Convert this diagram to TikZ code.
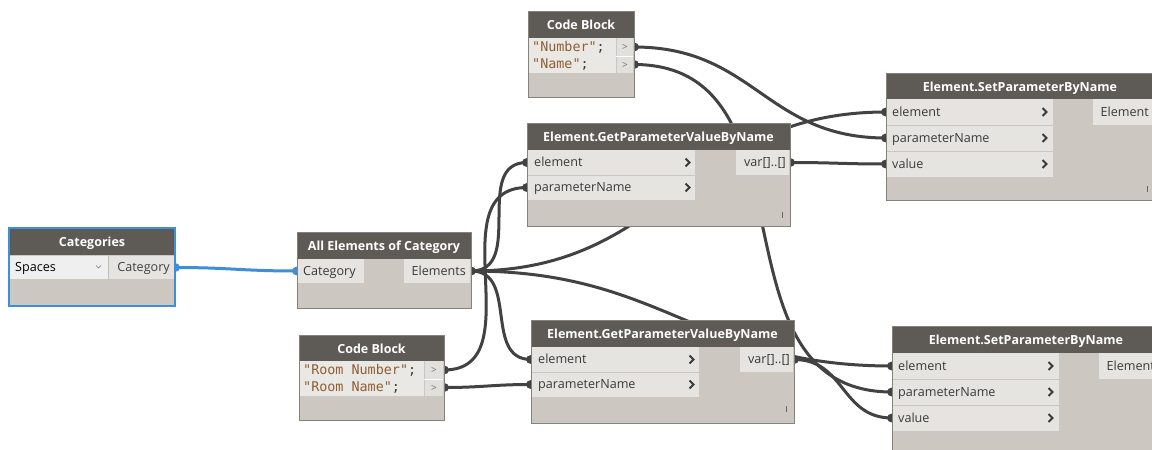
\documentclass[tikz,border=0pt]{standalone}
\usepackage{fontspec}
\setmainfont{Open Sans}
\setmonofont{DejaVu Sans Mono}
\usetikzlibrary{calc}
\definecolor{hdr}{HTML}{5E5A56}
\definecolor{bodyc}{HTML}{CCC8C1}
\definecolor{rowc}{HTML}{E6E4E0}
\definecolor{edge}{HTML}{85817B}
\definecolor{wire}{HTML}{424242}
\definecolor{sel}{HTML}{3D8FD9}
\definecolor{txt}{HTML}{3A3A3A}
\definecolor{strc}{HTML}{8E5E35}
\definecolor{codec}{HTML}{EAE8E5}
\definecolor{colc}{HTML}{E2E0DC}
\definecolor{dropc}{HTML}{EFEFEF}

% Bezier connector whose handle length grows with the distance between ports
\newcommand\dwire[3][wire]{%
  \draw[wireline,draw=#1] let \p1=(#2), \p2=(#3),
    \n1={0.45*veclen(\x2-\x1,\y2-\y1)} in
    (#2) .. controls +(\n1,0) and +(-\n1,0) .. (#3);}
% input chevron of a port row
\newcommand\chevron[2]{\draw[chev] (#1-2.5,#2-4) -- (#1+1.5,#2) -- (#1-2.5,#2+4);}

\begin{document}
\begin{tikzpicture}[x=1pt,y=-1pt,
  nbox/.style={fill=bodyc, inner sep=0pt, anchor=north west, outer sep=0pt},
  hdrtxt/.style={text=white, font=\fontsize{12.5}{14}\selectfont\bfseries, inner sep=0pt, text height=12pt, text depth=2pt},
  lbl/.style={text=txt, font=\fontsize{12.6}{14}\selectfont, inner sep=0pt, text height=11pt, text depth=2.5pt},
  code/.style={font=\ttfamily\fontsize{13.4}{16}\selectfont, inner sep=0pt, anchor=west, text height=10.5pt, text depth=2.5pt},
  chev/.style={draw=txt, line width=2pt},
  wireline/.style={line width=3pt},
  pmark/.style={fill=wire},
  outline/.style={draw=edge, line width=1pt},
  lace/.style={draw=black!60, line width=1pt},
]
\useasboundingbox (0,0) rectangle (1152,450);
\clip (0,0) rectangle (1152,450);
\fill[white] (0,0) rectangle (1152,450);

% ---- port positions ----
\coordinate (cat-out) at (175,267.5);
\coordinate (all-in) at (297,271);
\coordinate (all-out) at (471,271);
\coordinate (cbb-o1) at (444,370);
\coordinate (cbb-o2) at (444,387.5);
\coordinate (cbt-o1) at (634,47);
\coordinate (cbt-o2) at (634,64.5);
\coordinate (gtop-e) at (527,162.5);
\coordinate (gtop-p) at (527,187.5);
\coordinate (gtop-v) at (790,162.5);
\coordinate (gbot-e) at (531,359.5);
\coordinate (gbot-p) at (531,384.5);
\coordinate (gbot-v) at (794,359.5);
\coordinate (stop-e) at (886,112);
\coordinate (stop-p) at (886,138);
\coordinate (stop-v) at (886,164);
\coordinate (sbot-e) at (892,366);
\coordinate (sbot-p) at (892,392);
\coordinate (sbot-v) at (892,418);

% ---- connectors (behind the nodes) ----
\dwire[sel]{cat-out}{all-in}
\dwire{all-out}{gtop-e}
\dwire{all-out}{gbot-e}
\dwire{all-out}{stop-e}
\dwire{all-out}{sbot-e}
\dwire{cbb-o1}{gtop-p}
\dwire{cbb-o2}{gbot-p}
\dwire{cbt-o1}{stop-p}
\dwire{cbt-o2}{sbot-p}
\dwire{gtop-v}{stop-v}
\dwire{gbot-v}{sbot-v}

% ---- port tabs (half hidden by the node bodies) ----
\fill[sel] (cat-out) ellipse [x radius=5, y radius=4.5];
\fill[sel] (all-in) ellipse [x radius=5, y radius=4.5];
\foreach \p in {all-out,cbb-o1,cbb-o2,cbt-o1,cbt-o2,gtop-e,gtop-p,gtop-v,
                gbot-e,gbot-p,gbot-v,stop-e,stop-p,stop-v,sbot-e,sbot-p,sbot-v}
  \fill[pmark] (\p) ellipse [x radius=5, y radius=4.5];

% ================= Categories =================
\node[nbox, minimum width=166pt, minimum height=78pt] (cat) at (9,228) {};
\fill[hdr] (9,228) rectangle (175,255);
\node[hdrtxt] at (92,241.5) {Categories};
\fill[dropc] (10,256) rectangle (108,279);
\fill[rowc] (109,256) rectangle (174,279);
\draw[black!25, line width=0.8pt] (108.5,256) -- (108.5,279);
\node[lbl, anchor=west, text=black] at (15,267.5) {Spaces};
\draw[black!55, line width=0.7pt] (96,265.5) -- (98.5,268) -- (101,265.5);
\node[lbl, anchor=east, text=black!75] at (170,267.5) {Category};
\draw[sel, line width=2pt] (cat.north west) rectangle (cat.south east);

% ================= All Elements of Category =================
\node[nbox, minimum width=174pt, minimum height=76pt] (all) at (297,232) {};
\fill[hdr] (297,232) rectangle (471,259);
\node[hdrtxt] at (384,245.5) {All Elements of Category};
\fill[rowc] (298,259) rectangle (364,283);
\fill[rowc] (404,259) rectangle (470,283);
\node[lbl, anchor=west] at (303,271) {Category};
\node[lbl, anchor=east] at (466,271) {Elements};
\draw[outline] (all.north west) rectangle (all.south east);

% ================= Code Block (room parameters) =================
\node[nbox, minimum width=145pt, minimum height=85pt] (cbb) at (299,335) {};
\fill[hdr] (299,335) rectangle (444,361);
\node[hdrtxt] at (371.5,348) {Code Block};
\fill[codec] (300,361) rectangle (424,396);
\fill[colc] (424,361) rectangle (443,396);
\draw[black!22, line width=0.8pt] (424,361) -- (424,396);
\draw[white, line width=0.8pt] (424,379) -- (443,379);
\node[code] at (303,370) {\textcolor{strc}{"Room Number"}\textcolor{txt}{;}};
\node[code] at (303,387.5) {\textcolor{strc}{"Room Name"}\textcolor{txt}{;}};
\node[lbl, text=black!55, font=\fontsize{10}{12}\selectfont, text height=7pt, text depth=0pt] at (434,370) {>};
\node[lbl, text=black!55, font=\fontsize{10}{12}\selectfont, text height=7pt, text depth=0pt] at (434,387.5) {>};
\draw[outline] (cbb.north west) rectangle (cbb.south east);

% ================= Code Block (target parameters) =================
\node[nbox, minimum width=106pt, minimum height=86pt] (cbt) at (528,11) {};
\fill[hdr] (528,11) rectangle (634,38);
\node[hdrtxt] at (581,24.5) {Code Block};
\fill[codec] (529,38) rectangle (616,73);
\fill[colc] (616,38) rectangle (633,73);
\draw[black!22, line width=0.8pt] (616,38) -- (616,73);
\draw[white, line width=0.8pt] (616,56) -- (633,56);
\node[code] at (532,47) {\textcolor{strc}{"Number"}\textcolor{txt}{;}};
\node[code] at (532,64.5) {\textcolor{strc}{"Name"}\textcolor{txt}{;}};
\node[lbl, text=black!55, font=\fontsize{10}{12}\selectfont, text height=7pt, text depth=0pt] at (625,47) {>};
\node[lbl, text=black!55, font=\fontsize{10}{12}\selectfont, text height=7pt, text depth=0pt] at (625,64.5) {>};
\draw[outline] (cbt.north west) rectangle (cbt.south east);

% ================= Element.GetParameterValueByName (upper) =================
\node[nbox, minimum width=263pt, minimum height=103pt] (gtop) at (527,123) {};
\fill[hdr] (527,123) rectangle (790,150);
\node[hdrtxt] at (658.5,136.5) {Element.GetParameterValueByName};
\fill[rowc] (528,150) rectangle (695,174.5);
\fill[rowc] (528,175.5) rectangle (695,200);
\fill[rowc] (736,150) rectangle (789,174.5);
\node[lbl, anchor=west] at (534,162.5) {element};
\node[lbl, anchor=west] at (534,187.5) {parameterName};
\chevron{688}{162.5}
\chevron{688}{187.5}
\node[lbl, anchor=east] at (786,162.5) {var[]..[]};
\draw[lace] (782,212) -- (782,218);
\draw[outline] (gtop.north west) rectangle (gtop.south east);

% ================= Element.GetParameterValueByName (lower) =================
\node[nbox, minimum width=263pt, minimum height=103pt] (gbot) at (531,320) {};
\fill[hdr] (531,320) rectangle (794,347);
\node[hdrtxt] at (662.5,333.5) {Element.GetParameterValueByName};
\fill[rowc] (532,347) rectangle (699,371.5);
\fill[rowc] (532,372.5) rectangle (699,397);
\fill[rowc] (740,347) rectangle (793,371.5);
\node[lbl, anchor=west] at (538,359.5) {element};
\node[lbl, anchor=west] at (538,384.5) {parameterName};
\chevron{692}{359.5}
\chevron{692}{384.5}
\node[lbl, anchor=east] at (790,359.5) {var[]..[]};
\draw[lace] (786,406) -- (786,412);
\draw[outline] (gbot.north west) rectangle (gbot.south east);

% ================= Element.SetParameterByName (upper) =================
\node[nbox, minimum width=268pt, minimum height=127pt] (stop) at (886,73) {};
\fill[hdr] (886,73) rectangle (1154,99);
\node[hdrtxt] at (1020,86) {Element.SetParameterByName};
\fill[rowc] (887,99) rectangle (1053,124.5);
\fill[rowc] (887,125.5) rectangle (1053,150.5);
\fill[rowc] (887,151.5) rectangle (1053,177);
\fill[rowc] (1093,99) rectangle (1153,124.5);
\node[lbl, anchor=west] at (892,112) {element};
\node[lbl, anchor=west] at (892,138) {parameterName};
\node[lbl, anchor=west] at (892,164) {value};
\chevron{1045}{112}
\chevron{1045}{138}
\chevron{1045}{164}
\node[lbl, anchor=east] at (1149,112) {Element};
\draw[lace] (1147,186) -- (1147,192);
\draw[outline] (stop.north west) rectangle (stop.south east);

% ================= Element.SetParameterByName (lower) =================
\node[nbox, minimum width=268pt, minimum height=127pt] (sbot) at (892,326) {};
\fill[hdr] (892,326) rectangle (1160,353);
\node[hdrtxt] at (1026,339.5) {Element.SetParameterByName};
\fill[rowc] (893,353) rectangle (1059,378.5);
\fill[rowc] (893,379.5) rectangle (1059,404.5);
\fill[rowc] (893,405.5) rectangle (1059,431);
\fill[rowc] (1099,353) rectangle (1159,378.5);
\node[lbl, anchor=west] at (898,366) {element};
\node[lbl, anchor=west] at (898,392) {parameterName};
\node[lbl, anchor=west] at (898,418) {value};
\chevron{1051}{366}
\chevron{1051}{392}
\chevron{1051}{418}
\node[lbl, anchor=east] at (1155,366) {Element};
\draw[outline] (sbot.north west) rectangle (sbot.south east);
\end{tikzpicture}
\end{document}
